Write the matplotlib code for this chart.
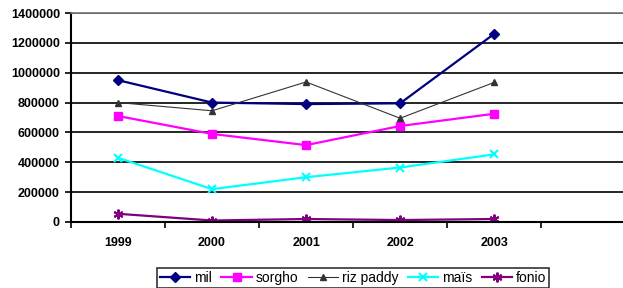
import matplotlib
matplotlib.use('Agg')
import matplotlib.pyplot as plt

# ================================================================
# Data
# ================================================================
years = ["1999", "2000", "2001", "2002", "2003"]
mil = [950000, 800000, 790000, 795000, 1260000]
sorgho = [710000, 590000, 515000, 643000, 725000]
riz_paddy = [800000, 745000, 938000, 695000, 935000]
mais = [430000, 220000, 300000, 365000, 453000]
fonio = [55000, 10000, 20000, 13000, 20000]
y_ticks = [0, 200000, 400000, 600000, 800000, 1000000, 1200000, 1400000]

plt.rcParams["font.family"] = ["Liberation Sans", "DejaVu Sans"]

fig = plt.figure(figsize=(6.23, 2.88), dpi=100)
ax = fig.add_axes([71 / 623, 1 - 222 / 288, 552 / 623, 209 / 288])

x = list(range(len(years)))
ax.plot(x, mil, color="#000080", lw=1.6, marker="D", ms=5.5, label="mil")
ax.plot(x, sorgho, color="#FF00FF", lw=1.6, marker="s", ms=6, label="sorgho")
ax.plot(x, riz_paddy, color="#333333", lw=0.8, marker="^", ms=4.5, label="riz paddy")
ax.plot(x, mais, color="#00FFFF", lw=1.6, marker="x", ms=6, mew=1.5, label="maïs")
ax.plot(x, fonio, color="#800080", lw=1.6, marker=(6, 2, 0), ms=7, mew=1.5, label="fonio")

ax.set_ylim(0, 1400000)
ax.set_yticks(y_ticks)
ax.set_yticklabels([str(v) for v in y_ticks], fontsize=9, fontweight="bold")
ax.set_xlim(-0.5, 5.37)
ax.set_xticks([i - 0.5 for i in range(6)])
ax.set_xticklabels([])
ax.set_xticks(x, minor=True)
ax.set_xticklabels(years, minor=True, fontsize=9, fontweight="bold")
ax.tick_params(axis="x", which="minor", length=0, pad=11)
ax.tick_params(axis="x", which="major", length=4, width=1.2, direction="out")
ax.tick_params(axis="y", length=4, width=1.2, direction="out", pad=4)

ax.grid(axis="y", color="black", lw=1.2)
ax.set_axisbelow(True)
ax.spines["right"].set_visible(False)
ax.spines["top"].set_color("#777777")
ax.spines["top"].set_linewidth(1.2)
ax.spines["left"].set_linewidth(1.5)
ax.spines["bottom"].set_linewidth(1.5)

leg = fig.legend(loc="center", bbox_to_anchor=(353 / 623, 1 - 278 / 288), ncol=5,
                 fontsize=10, frameon=True, fancybox=False, edgecolor="black",
                 handlelength=2.2, handletextpad=0.25, columnspacing=0.7,
                 borderpad=0.2, borderaxespad=0)
leg.get_frame().set_linewidth(1.2)

fig.savefig("out.png", dpi=100)
